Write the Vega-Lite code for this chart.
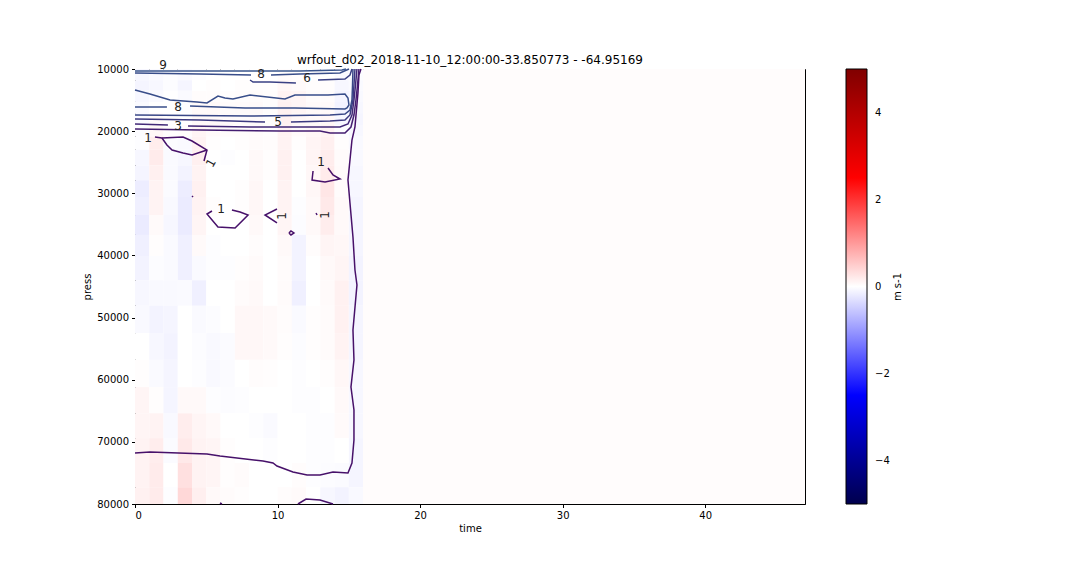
{
"$schema":"https://vega.github.io/schema/vega-lite/v6.json",
"width":670,"height":435,
"autosize":{"type":"none"},
"padding":{"left":135,"top":69,"right":275,"bottom":72},
"background":"white",
"title":{"text":"wrfout_d02_2018-11-10_12:00:00-33.850773 - -64.95169","font":"DejaVu Sans","fontSize":12,"fontWeight":"normal","color":"black","offset":-8},
"config":{"view":{"stroke":"black","strokeWidth":1},"font":"DejaVu Sans",
"axis":{"labelFont":"DejaVu Sans","titleFont":"DejaVu Sans","labelFontSize":10,"titleFontSize":10,"titleFontWeight":"normal","labelColor":"black","titleColor":"black","tickColor":"black","domainColor":"black","tickSize":3.5,"grid":false,"labelPadding":3}},
"datasets":{
"cells":[
{"t0":0,"t1":1,"p0":10000,"p1":11800,"v":-0.08},{"t0":0,"t1":1,"p0":11800,"p1":13500,"v":-0.1},{"t0":0,"t1":1,"p0":13500,"p1":15300,"v":-0.08},{"t0":0,"t1":1,"p0":15300,"p1":17100,"v":-0.05},{"t0":0,"t1":1,"p0":17100,"p1":19000,"v":-0.05},{"t0":0,"t1":1,"p0":19000,"p1":20900,"v":-0.03},{"t0":0,"t1":1,"p0":20900,"p1":23000,"v":-0.02},{"t0":0,"t1":1,"p0":23000,"p1":25500,"v":-0.08},{"t0":0,"t1":1,"p0":25500,"p1":27900,"v":-0.1},{"t0":0,"t1":1,"p0":27900,"p1":30600,"v":-0.18},{"t0":0,"t1":1,"p0":30600,"p1":33500,"v":-0.15},{"t0":0,"t1":1,"p0":33500,"p1":36700,"v":-0.2},{"t0":0,"t1":1,"p0":36700,"p1":40100,"v":-0.15},{"t0":0,"t1":1,"p0":40100,"p1":44000,"v":-0.12},{"t0":0,"t1":1,"p0":44000,"p1":48100,"v":-0.08},{"t0":0,"t1":1,"p0":48100,"p1":52500,"v":-0.06},{"t0":0,"t1":1,"p0":52500,"p1":56800,"v":0.0},{"t0":0,"t1":1,"p0":56800,"p1":61200,"v":0.02},{"t0":0,"t1":1,"p0":61200,"p1":65400,"v":0.1},{"t0":0,"t1":1,"p0":65400,"p1":69400,"v":0.1},{"t0":0,"t1":1,"p0":69400,"p1":73400,"v":0.12},{"t0":0,"t1":1,"p0":73400,"p1":77300,"v":0.12},{"t0":0,"t1":1,"p0":77300,"p1":80000,"v":0.14},
{"t0":1,"t1":2,"p0":10000,"p1":11800,"v":-0.05},{"t0":1,"t1":2,"p0":11800,"p1":13500,"v":-0.08},{"t0":1,"t1":2,"p0":13500,"p1":15300,"v":-0.05},{"t0":1,"t1":2,"p0":15300,"p1":17100,"v":0.0},{"t0":1,"t1":2,"p0":17100,"p1":19000,"v":0.05},{"t0":1,"t1":2,"p0":19000,"p1":20900,"v":0.08},{"t0":1,"t1":2,"p0":20900,"p1":23000,"v":0.18},{"t0":1,"t1":2,"p0":23000,"p1":25500,"v":0.2},{"t0":1,"t1":2,"p0":25500,"p1":27900,"v":0.15},{"t0":1,"t1":2,"p0":27900,"p1":30600,"v":0.12},{"t0":1,"t1":2,"p0":30600,"p1":33500,"v":0.12},{"t0":1,"t1":2,"p0":33500,"p1":36700,"v":0.05},{"t0":1,"t1":2,"p0":36700,"p1":40100,"v":0.02},{"t0":1,"t1":2,"p0":40100,"p1":44000,"v":-0.03},{"t0":1,"t1":2,"p0":44000,"p1":48100,"v":-0.06},{"t0":1,"t1":2,"p0":48100,"p1":52500,"v":-0.12},{"t0":1,"t1":2,"p0":52500,"p1":56800,"v":-0.08},{"t0":1,"t1":2,"p0":56800,"p1":61200,"v":-0.05},{"t0":1,"t1":2,"p0":61200,"p1":65400,"v":0.02},{"t0":1,"t1":2,"p0":65400,"p1":69400,"v":0.12},{"t0":1,"t1":2,"p0":69400,"p1":73400,"v":0.18},{"t0":1,"t1":2,"p0":73400,"p1":77300,"v":0.2},{"t0":1,"t1":2,"p0":77300,"p1":80000,"v":0.2},
{"t0":2,"t1":3,"p0":10000,"p1":11800,"v":-0.02},{"t0":2,"t1":3,"p0":11800,"p1":13500,"v":-0.03},{"t0":2,"t1":3,"p0":13500,"p1":15300,"v":0.0},{"t0":2,"t1":3,"p0":15300,"p1":17100,"v":0.0},{"t0":2,"t1":3,"p0":17100,"p1":19000,"v":0.02},{"t0":2,"t1":3,"p0":19000,"p1":20900,"v":0.02},{"t0":2,"t1":3,"p0":20900,"p1":23000,"v":-0.03},{"t0":2,"t1":3,"p0":23000,"p1":25500,"v":-0.05},{"t0":2,"t1":3,"p0":25500,"p1":27900,"v":-0.05},{"t0":2,"t1":3,"p0":27900,"p1":30600,"v":-0.04},{"t0":2,"t1":3,"p0":30600,"p1":33500,"v":-0.06},{"t0":2,"t1":3,"p0":33500,"p1":36700,"v":-0.08},{"t0":2,"t1":3,"p0":36700,"p1":40100,"v":-0.05},{"t0":2,"t1":3,"p0":40100,"p1":44000,"v":-0.05},{"t0":2,"t1":3,"p0":44000,"p1":48100,"v":-0.06},{"t0":2,"t1":3,"p0":48100,"p1":52500,"v":-0.1},{"t0":2,"t1":3,"p0":52500,"p1":56800,"v":-0.12},{"t0":2,"t1":3,"p0":56800,"p1":61200,"v":-0.1},{"t0":2,"t1":3,"p0":61200,"p1":65400,"v":-0.1},{"t0":2,"t1":3,"p0":65400,"p1":69400,"v":-0.06},{"t0":2,"t1":3,"p0":69400,"p1":73400,"v":-0.04},{"t0":2,"t1":3,"p0":73400,"p1":77300,"v":0.0},{"t0":2,"t1":3,"p0":77300,"p1":80000,"v":-0.02},
{"t0":3,"t1":4,"p0":10000,"p1":11800,"v":-0.05},{"t0":3,"t1":4,"p0":11800,"p1":13500,"v":-0.1},{"t0":3,"t1":4,"p0":13500,"p1":15300,"v":-0.05},{"t0":3,"t1":4,"p0":15300,"p1":17100,"v":-0.02},{"t0":3,"t1":4,"p0":17100,"p1":19000,"v":0.0},{"t0":3,"t1":4,"p0":19000,"p1":20900,"v":0.03},{"t0":3,"t1":4,"p0":20900,"p1":23000,"v":-0.05},{"t0":3,"t1":4,"p0":23000,"p1":25500,"v":-0.08},{"t0":3,"t1":4,"p0":25500,"p1":27900,"v":-0.12},{"t0":3,"t1":4,"p0":27900,"p1":30600,"v":-0.18},{"t0":3,"t1":4,"p0":30600,"p1":33500,"v":-0.2},{"t0":3,"t1":4,"p0":33500,"p1":36700,"v":-0.2},{"t0":3,"t1":4,"p0":36700,"p1":40100,"v":-0.15},{"t0":3,"t1":4,"p0":40100,"p1":44000,"v":-0.15},{"t0":3,"t1":4,"p0":44000,"p1":48100,"v":-0.05},{"t0":3,"t1":4,"p0":48100,"p1":52500,"v":0.0},{"t0":3,"t1":4,"p0":52500,"p1":56800,"v":0.0},{"t0":3,"t1":4,"p0":56800,"p1":61200,"v":0.0},{"t0":3,"t1":4,"p0":61200,"p1":65400,"v":0.06},{"t0":3,"t1":4,"p0":65400,"p1":69400,"v":0.18},{"t0":3,"t1":4,"p0":69400,"p1":73400,"v":0.22},{"t0":3,"t1":4,"p0":73400,"p1":77300,"v":0.3},{"t0":3,"t1":4,"p0":77300,"p1":80000,"v":0.38},
{"t0":4,"t1":5,"p0":10000,"p1":11800,"v":-0.02},{"t0":4,"t1":5,"p0":11800,"p1":13500,"v":0.0},{"t0":4,"t1":5,"p0":13500,"p1":15300,"v":0.03},{"t0":4,"t1":5,"p0":15300,"p1":17100,"v":0.05},{"t0":4,"t1":5,"p0":17100,"p1":19000,"v":0.06},{"t0":4,"t1":5,"p0":19000,"p1":20900,"v":0.1},{"t0":4,"t1":5,"p0":20900,"p1":23000,"v":0.12},{"t0":4,"t1":5,"p0":23000,"p1":25500,"v":0.15},{"t0":4,"t1":5,"p0":25500,"p1":27900,"v":0.12},{"t0":4,"t1":5,"p0":27900,"p1":30600,"v":0.14},{"t0":4,"t1":5,"p0":30600,"p1":33500,"v":0.12},{"t0":4,"t1":5,"p0":33500,"p1":36700,"v":0.1},{"t0":4,"t1":5,"p0":36700,"p1":40100,"v":0.05},{"t0":4,"t1":5,"p0":40100,"p1":44000,"v":-0.05},{"t0":4,"t1":5,"p0":44000,"p1":48100,"v":-0.15},{"t0":4,"t1":5,"p0":48100,"p1":52500,"v":-0.05},{"t0":4,"t1":5,"p0":52500,"p1":56800,"v":-0.03},{"t0":4,"t1":5,"p0":56800,"p1":61200,"v":-0.02},{"t0":4,"t1":5,"p0":61200,"p1":65400,"v":0.06},{"t0":4,"t1":5,"p0":65400,"p1":69400,"v":0.1},{"t0":4,"t1":5,"p0":69400,"p1":73400,"v":0.12},{"t0":4,"t1":5,"p0":73400,"p1":77300,"v":0.12},{"t0":4,"t1":5,"p0":77300,"p1":80000,"v":0.16},
{"t0":5,"t1":6,"p0":10000,"p1":11800,"v":0.0},{"t0":5,"t1":6,"p0":11800,"p1":13500,"v":0.02},{"t0":5,"t1":6,"p0":13500,"p1":15300,"v":0.03},{"t0":5,"t1":6,"p0":15300,"p1":17100,"v":0.06},{"t0":5,"t1":6,"p0":17100,"p1":19000,"v":0.06},{"t0":5,"t1":6,"p0":19000,"p1":20900,"v":0.05},{"t0":5,"t1":6,"p0":20900,"p1":23000,"v":0.02},{"t0":5,"t1":6,"p0":23000,"p1":25500,"v":0.0},{"t0":5,"t1":6,"p0":25500,"p1":27900,"v":0.0},{"t0":5,"t1":6,"p0":27900,"p1":30600,"v":0.0},{"t0":5,"t1":6,"p0":30600,"p1":33500,"v":0.02},{"t0":5,"t1":6,"p0":33500,"p1":36700,"v":0.0},{"t0":5,"t1":6,"p0":36700,"p1":40100,"v":-0.02},{"t0":5,"t1":6,"p0":40100,"p1":44000,"v":-0.02},{"t0":5,"t1":6,"p0":44000,"p1":48100,"v":0.0},{"t0":5,"t1":6,"p0":48100,"p1":52500,"v":-0.03},{"t0":5,"t1":6,"p0":52500,"p1":56800,"v":-0.06},{"t0":5,"t1":6,"p0":56800,"p1":61200,"v":-0.06},{"t0":5,"t1":6,"p0":61200,"p1":65400,"v":-0.02},{"t0":5,"t1":6,"p0":65400,"p1":69400,"v":0.06},{"t0":5,"t1":6,"p0":69400,"p1":73400,"v":0.1},{"t0":5,"t1":6,"p0":73400,"p1":77300,"v":0.1},{"t0":5,"t1":6,"p0":77300,"p1":80000,"v":0.06},
{"t0":6,"t1":7,"p0":10000,"p1":11800,"v":0.0},{"t0":6,"t1":7,"p0":11800,"p1":13500,"v":0.0},{"t0":6,"t1":7,"p0":13500,"p1":15300,"v":0.02},{"t0":6,"t1":7,"p0":15300,"p1":17100,"v":0.04},{"t0":6,"t1":7,"p0":17100,"p1":19000,"v":0.05},{"t0":6,"t1":7,"p0":19000,"p1":20900,"v":0.03},{"t0":6,"t1":7,"p0":20900,"p1":23000,"v":0.0},{"t0":6,"t1":7,"p0":23000,"p1":25500,"v":-0.02},{"t0":6,"t1":7,"p0":25500,"p1":27900,"v":0.0},{"t0":6,"t1":7,"p0":27900,"p1":30600,"v":0.0},{"t0":6,"t1":7,"p0":30600,"p1":33500,"v":0.0},{"t0":6,"t1":7,"p0":33500,"p1":36700,"v":0.0},{"t0":6,"t1":7,"p0":36700,"p1":40100,"v":0.0},{"t0":6,"t1":7,"p0":40100,"p1":44000,"v":-0.02},{"t0":6,"t1":7,"p0":44000,"p1":48100,"v":0.0},{"t0":6,"t1":7,"p0":48100,"p1":52500,"v":0.0},{"t0":6,"t1":7,"p0":52500,"p1":56800,"v":-0.04},{"t0":6,"t1":7,"p0":56800,"p1":61200,"v":-0.04},{"t0":6,"t1":7,"p0":61200,"p1":65400,"v":-0.03},{"t0":6,"t1":7,"p0":65400,"p1":69400,"v":0.0},{"t0":6,"t1":7,"p0":69400,"p1":73400,"v":0.02},{"t0":6,"t1":7,"p0":73400,"p1":77300,"v":0.02},{"t0":6,"t1":7,"p0":77300,"p1":80000,"v":0.04},
{"t0":7,"t1":8,"p0":10000,"p1":11800,"v":0.0},{"t0":7,"t1":8,"p0":11800,"p1":13500,"v":0.02},{"t0":7,"t1":8,"p0":13500,"p1":15300,"v":0.03},{"t0":7,"t1":8,"p0":15300,"p1":17100,"v":0.05},{"t0":7,"t1":8,"p0":17100,"p1":19000,"v":0.04},{"t0":7,"t1":8,"p0":19000,"p1":20900,"v":0.03},{"t0":7,"t1":8,"p0":20900,"p1":23000,"v":0.02},{"t0":7,"t1":8,"p0":23000,"p1":25500,"v":0.0},{"t0":7,"t1":8,"p0":25500,"p1":27900,"v":0.0},{"t0":7,"t1":8,"p0":27900,"p1":30600,"v":0.02},{"t0":7,"t1":8,"p0":30600,"p1":33500,"v":0.02},{"t0":7,"t1":8,"p0":33500,"p1":36700,"v":0.0},{"t0":7,"t1":8,"p0":36700,"p1":40100,"v":0.0},{"t0":7,"t1":8,"p0":40100,"p1":44000,"v":0.02},{"t0":7,"t1":8,"p0":44000,"p1":48100,"v":0.04},{"t0":7,"t1":8,"p0":48100,"p1":52500,"v":0.08},{"t0":7,"t1":8,"p0":52500,"p1":56800,"v":0.08},{"t0":7,"t1":8,"p0":56800,"p1":61200,"v":0.0},{"t0":7,"t1":8,"p0":61200,"p1":65400,"v":-0.02},{"t0":7,"t1":8,"p0":65400,"p1":69400,"v":0.0},{"t0":7,"t1":8,"p0":69400,"p1":73400,"v":0.0},{"t0":7,"t1":8,"p0":73400,"p1":77300,"v":0.04},{"t0":7,"t1":8,"p0":77300,"p1":80000,"v":0.02},
{"t0":8,"t1":9,"p0":10000,"p1":11800,"v":0.0},{"t0":8,"t1":9,"p0":11800,"p1":13500,"v":0.02},{"t0":8,"t1":9,"p0":13500,"p1":15300,"v":0.04},{"t0":8,"t1":9,"p0":15300,"p1":17100,"v":0.06},{"t0":8,"t1":9,"p0":17100,"p1":19000,"v":0.05},{"t0":8,"t1":9,"p0":19000,"p1":20900,"v":0.04},{"t0":8,"t1":9,"p0":20900,"p1":23000,"v":0.04},{"t0":8,"t1":9,"p0":23000,"p1":25500,"v":0.06},{"t0":8,"t1":9,"p0":25500,"p1":27900,"v":0.06},{"t0":8,"t1":9,"p0":27900,"p1":30600,"v":0.08},{"t0":8,"t1":9,"p0":30600,"p1":33500,"v":0.08},{"t0":8,"t1":9,"p0":33500,"p1":36700,"v":0.06},{"t0":8,"t1":9,"p0":36700,"p1":40100,"v":0.03},{"t0":8,"t1":9,"p0":40100,"p1":44000,"v":0.05},{"t0":8,"t1":9,"p0":44000,"p1":48100,"v":0.06},{"t0":8,"t1":9,"p0":48100,"p1":52500,"v":0.08},{"t0":8,"t1":9,"p0":52500,"p1":56800,"v":0.08},{"t0":8,"t1":9,"p0":56800,"p1":61200,"v":0.03},{"t0":8,"t1":9,"p0":61200,"p1":65400,"v":0.0},{"t0":8,"t1":9,"p0":65400,"p1":69400,"v":-0.02},{"t0":8,"t1":9,"p0":69400,"p1":73400,"v":0.0},{"t0":8,"t1":9,"p0":73400,"p1":77300,"v":0.0},{"t0":8,"t1":9,"p0":77300,"p1":80000,"v":0.0},
{"t0":9,"t1":10,"p0":10000,"p1":11800,"v":0.0},{"t0":9,"t1":10,"p0":11800,"p1":13500,"v":0.02},{"t0":9,"t1":10,"p0":13500,"p1":15300,"v":0.03},{"t0":9,"t1":10,"p0":15300,"p1":17100,"v":0.03},{"t0":9,"t1":10,"p0":17100,"p1":19000,"v":0.02},{"t0":9,"t1":10,"p0":19000,"p1":20900,"v":0.02},{"t0":9,"t1":10,"p0":20900,"p1":23000,"v":0.03},{"t0":9,"t1":10,"p0":23000,"p1":25500,"v":0.02},{"t0":9,"t1":10,"p0":25500,"p1":27900,"v":0.02},{"t0":9,"t1":10,"p0":27900,"p1":30600,"v":0.0},{"t0":9,"t1":10,"p0":30600,"p1":33500,"v":0.0},{"t0":9,"t1":10,"p0":33500,"p1":36700,"v":0.0},{"t0":9,"t1":10,"p0":36700,"p1":40100,"v":0.0},{"t0":9,"t1":10,"p0":40100,"p1":44000,"v":0.0},{"t0":9,"t1":10,"p0":44000,"p1":48100,"v":0.0},{"t0":9,"t1":10,"p0":48100,"p1":52500,"v":0.06},{"t0":9,"t1":10,"p0":52500,"p1":56800,"v":0.06},{"t0":9,"t1":10,"p0":56800,"p1":61200,"v":0.02},{"t0":9,"t1":10,"p0":61200,"p1":65400,"v":0.0},{"t0":9,"t1":10,"p0":65400,"p1":69400,"v":-0.05},{"t0":9,"t1":10,"p0":69400,"p1":73400,"v":-0.02},{"t0":9,"t1":10,"p0":73400,"p1":77300,"v":0.0},{"t0":9,"t1":10,"p0":77300,"p1":80000,"v":0.0},
{"t0":10,"t1":11,"p0":10000,"p1":11800,"v":0.03},{"t0":10,"t1":11,"p0":11800,"p1":13500,"v":0.08},{"t0":10,"t1":11,"p0":13500,"p1":15300,"v":0.12},{"t0":10,"t1":11,"p0":15300,"p1":17100,"v":0.14},{"t0":10,"t1":11,"p0":17100,"p1":19000,"v":0.14},{"t0":10,"t1":11,"p0":19000,"p1":20900,"v":0.12},{"t0":10,"t1":11,"p0":20900,"p1":23000,"v":0.12},{"t0":10,"t1":11,"p0":23000,"p1":25500,"v":0.14},{"t0":10,"t1":11,"p0":25500,"p1":27900,"v":0.14},{"t0":10,"t1":11,"p0":27900,"p1":30600,"v":0.12},{"t0":10,"t1":11,"p0":30600,"p1":33500,"v":0.12},{"t0":10,"t1":11,"p0":33500,"p1":36700,"v":0.1},{"t0":10,"t1":11,"p0":36700,"p1":40100,"v":0.06},{"t0":10,"t1":11,"p0":40100,"p1":44000,"v":0.04},{"t0":10,"t1":11,"p0":44000,"p1":48100,"v":0.04},{"t0":10,"t1":11,"p0":48100,"p1":52500,"v":0.03},{"t0":10,"t1":11,"p0":52500,"p1":56800,"v":0.02},{"t0":10,"t1":11,"p0":56800,"p1":61200,"v":0.0},{"t0":10,"t1":11,"p0":61200,"p1":65400,"v":0.0},{"t0":10,"t1":11,"p0":65400,"p1":69400,"v":0.0},{"t0":10,"t1":11,"p0":69400,"p1":73400,"v":0.0},{"t0":10,"t1":11,"p0":73400,"p1":77300,"v":0.0},{"t0":10,"t1":11,"p0":77300,"p1":80000,"v":0.03},
{"t0":11,"t1":12,"p0":10000,"p1":11800,"v":0.02},{"t0":11,"t1":12,"p0":11800,"p1":13500,"v":0.05},{"t0":11,"t1":12,"p0":13500,"p1":15300,"v":0.1},{"t0":11,"t1":12,"p0":15300,"p1":17100,"v":0.1},{"t0":11,"t1":12,"p0":17100,"p1":19000,"v":0.08},{"t0":11,"t1":12,"p0":19000,"p1":20900,"v":0.05},{"t0":11,"t1":12,"p0":20900,"p1":23000,"v":0.02},{"t0":11,"t1":12,"p0":23000,"p1":25500,"v":0.0},{"t0":11,"t1":12,"p0":25500,"p1":27900,"v":0.0},{"t0":11,"t1":12,"p0":27900,"p1":30600,"v":0.0},{"t0":11,"t1":12,"p0":30600,"p1":33500,"v":-0.02},{"t0":11,"t1":12,"p0":33500,"p1":36700,"v":-0.03},{"t0":11,"t1":12,"p0":36700,"p1":40100,"v":-0.12},{"t0":11,"t1":12,"p0":40100,"p1":44000,"v":-0.12},{"t0":11,"t1":12,"p0":44000,"p1":48100,"v":-0.15},{"t0":11,"t1":12,"p0":48100,"p1":52500,"v":-0.05},{"t0":11,"t1":12,"p0":52500,"p1":56800,"v":-0.03},{"t0":11,"t1":12,"p0":56800,"p1":61200,"v":-0.02},{"t0":11,"t1":12,"p0":61200,"p1":65400,"v":-0.02},{"t0":11,"t1":12,"p0":65400,"p1":69400,"v":0.0},{"t0":11,"t1":12,"p0":69400,"p1":73400,"v":0.0},{"t0":11,"t1":12,"p0":73400,"p1":77300,"v":0.03},{"t0":11,"t1":12,"p0":77300,"p1":80000,"v":0.05},
{"t0":12,"t1":13,"p0":10000,"p1":11800,"v":0.0},{"t0":12,"t1":13,"p0":11800,"p1":13500,"v":0.02},{"t0":12,"t1":13,"p0":13500,"p1":15300,"v":0.04},{"t0":12,"t1":13,"p0":15300,"p1":17100,"v":0.06},{"t0":12,"t1":13,"p0":17100,"p1":19000,"v":0.06},{"t0":12,"t1":13,"p0":19000,"p1":20900,"v":0.08},{"t0":12,"t1":13,"p0":20900,"p1":23000,"v":0.1},{"t0":12,"t1":13,"p0":23000,"p1":25500,"v":0.1},{"t0":12,"t1":13,"p0":25500,"p1":27900,"v":0.08},{"t0":12,"t1":13,"p0":27900,"p1":30600,"v":0.08},{"t0":12,"t1":13,"p0":30600,"p1":33500,"v":0.06},{"t0":12,"t1":13,"p0":33500,"p1":36700,"v":0.06},{"t0":12,"t1":13,"p0":36700,"p1":40100,"v":0.03},{"t0":12,"t1":13,"p0":40100,"p1":44000,"v":0.0},{"t0":12,"t1":13,"p0":44000,"p1":48100,"v":0.0},{"t0":12,"t1":13,"p0":48100,"p1":52500,"v":0.02},{"t0":12,"t1":13,"p0":52500,"p1":56800,"v":0.02},{"t0":12,"t1":13,"p0":56800,"p1":61200,"v":0.0},{"t0":12,"t1":13,"p0":61200,"p1":65400,"v":-0.02},{"t0":12,"t1":13,"p0":65400,"p1":69400,"v":-0.02},{"t0":12,"t1":13,"p0":69400,"p1":73400,"v":-0.02},{"t0":12,"t1":13,"p0":73400,"p1":77300,"v":-0.02},{"t0":12,"t1":13,"p0":77300,"p1":80000,"v":0.0},
{"t0":13,"t1":14,"p0":10000,"p1":11800,"v":0.0},{"t0":13,"t1":14,"p0":11800,"p1":13500,"v":0.02},{"t0":13,"t1":14,"p0":13500,"p1":15300,"v":0.03},{"t0":13,"t1":14,"p0":15300,"p1":17100,"v":0.05},{"t0":13,"t1":14,"p0":17100,"p1":19000,"v":0.08},{"t0":13,"t1":14,"p0":19000,"p1":20900,"v":0.12},{"t0":13,"t1":14,"p0":20900,"p1":23000,"v":0.15},{"t0":13,"t1":14,"p0":23000,"p1":25500,"v":0.18},{"t0":13,"t1":14,"p0":25500,"p1":27900,"v":0.2},{"t0":13,"t1":14,"p0":27900,"p1":30600,"v":0.25},{"t0":13,"t1":14,"p0":30600,"p1":33500,"v":0.22},{"t0":13,"t1":14,"p0":33500,"p1":36700,"v":0.18},{"t0":13,"t1":14,"p0":36700,"p1":40100,"v":0.1},{"t0":13,"t1":14,"p0":40100,"p1":44000,"v":0.06},{"t0":13,"t1":14,"p0":44000,"p1":48100,"v":0.05},{"t0":13,"t1":14,"p0":48100,"p1":52500,"v":0.04},{"t0":13,"t1":14,"p0":52500,"p1":56800,"v":0.04},{"t0":13,"t1":14,"p0":56800,"p1":61200,"v":0.02},{"t0":13,"t1":14,"p0":61200,"p1":65400,"v":0.0},{"t0":13,"t1":14,"p0":65400,"p1":69400,"v":-0.02},{"t0":13,"t1":14,"p0":69400,"p1":73400,"v":-0.02},{"t0":13,"t1":14,"p0":73400,"p1":77300,"v":-0.03},{"t0":13,"t1":14,"p0":77300,"p1":80000,"v":-0.08},
{"t0":14,"t1":15,"p0":10000,"p1":11800,"v":-0.05},{"t0":14,"t1":15,"p0":11800,"p1":13500,"v":-0.08},{"t0":14,"t1":15,"p0":13500,"p1":15300,"v":-0.1},{"t0":14,"t1":15,"p0":15300,"p1":17100,"v":-0.12},{"t0":14,"t1":15,"p0":17100,"p1":19000,"v":-0.08},{"t0":14,"t1":15,"p0":19000,"p1":20900,"v":-0.02},{"t0":14,"t1":15,"p0":20900,"p1":23000,"v":0.02},{"t0":14,"t1":15,"p0":23000,"p1":25500,"v":0.04},{"t0":14,"t1":15,"p0":25500,"p1":27900,"v":0.05},{"t0":14,"t1":15,"p0":27900,"p1":30600,"v":0.04},{"t0":14,"t1":15,"p0":30600,"p1":33500,"v":0.06},{"t0":14,"t1":15,"p0":33500,"p1":36700,"v":0.06},{"t0":14,"t1":15,"p0":36700,"p1":40100,"v":0.08},{"t0":14,"t1":15,"p0":40100,"p1":44000,"v":0.1},{"t0":14,"t1":15,"p0":44000,"p1":48100,"v":0.14},{"t0":14,"t1":15,"p0":48100,"p1":52500,"v":0.14},{"t0":14,"t1":15,"p0":52500,"p1":56800,"v":0.12},{"t0":14,"t1":15,"p0":56800,"p1":61200,"v":0.08},{"t0":14,"t1":15,"p0":61200,"p1":65400,"v":0.06},{"t0":14,"t1":15,"p0":65400,"p1":69400,"v":0.05},{"t0":14,"t1":15,"p0":69400,"p1":73400,"v":0.0},{"t0":14,"t1":15,"p0":73400,"p1":77300,"v":-0.04},{"t0":14,"t1":15,"p0":77300,"p1":80000,"v":-0.12},
{"t0":15,"t1":16,"p0":10000,"p1":11800,"v":-0.03},{"t0":15,"t1":16,"p0":11800,"p1":13500,"v":-0.05},{"t0":15,"t1":16,"p0":13500,"p1":15300,"v":-0.06},{"t0":15,"t1":16,"p0":15300,"p1":17100,"v":-0.08},{"t0":15,"t1":16,"p0":17100,"p1":19000,"v":-0.1},{"t0":15,"t1":16,"p0":19000,"p1":20900,"v":-0.08},{"t0":15,"t1":16,"p0":20900,"p1":23000,"v":-0.06},{"t0":15,"t1":16,"p0":23000,"p1":25500,"v":-0.06},{"t0":15,"t1":16,"p0":25500,"p1":27900,"v":-0.08},{"t0":15,"t1":16,"p0":27900,"p1":30600,"v":-0.08},{"t0":15,"t1":16,"p0":30600,"p1":33500,"v":-0.1},{"t0":15,"t1":16,"p0":33500,"p1":36700,"v":-0.1},{"t0":15,"t1":16,"p0":36700,"p1":40100,"v":-0.1},{"t0":15,"t1":16,"p0":40100,"p1":44000,"v":-0.12},{"t0":15,"t1":16,"p0":44000,"p1":48100,"v":-0.12},{"t0":15,"t1":16,"p0":48100,"p1":52500,"v":-0.1},{"t0":15,"t1":16,"p0":52500,"p1":56800,"v":-0.1},{"t0":15,"t1":16,"p0":56800,"p1":61200,"v":-0.08},{"t0":15,"t1":16,"p0":61200,"p1":65400,"v":-0.08},{"t0":15,"t1":16,"p0":65400,"p1":69400,"v":-0.08},{"t0":15,"t1":16,"p0":69400,"p1":73400,"v":-0.1},{"t0":15,"t1":16,"p0":73400,"p1":77300,"v":-0.1},{"t0":15,"t1":16,"p0":77300,"p1":80000,"v":-0.06},
{"t0":16,"t1":47,"p0":10000,"p1":80000,"v":0.03}
],
"contours":[
{"id":"c1","lev":1,"o":0,"t":15.85,"p":10000},{"id":"c1","lev":1,"o":1,"t":15.71,"p":10966},{"id":"c1","lev":1,"o":2,"t":15.64,"p":13862},{"id":"c1","lev":1,"o":3,"t":15.43,"p":19333},{"id":"c1","lev":1,"o":4,"t":15.22,"p":21425},{"id":"c1","lev":1,"o":5,"t":15.08,"p":24644},{"id":"c1","lev":1,"o":6,"t":14.94,"p":27862},{"id":"c1","lev":1,"o":7,"t":15.08,"p":31563},{"id":"c1","lev":1,"o":8,"t":15.29,"p":37035},{"id":"c1","lev":1,"o":9,"t":15.43,"p":42345},{"id":"c1","lev":1,"o":10,"t":15.57,"p":44759},{"id":"c1","lev":1,"o":11,"t":15.29,"p":52000},{"id":"c1","lev":1,"o":12,"t":15.36,"p":56828},{"id":"c1","lev":1,"o":13,"t":15.15,"p":61173},{"id":"c1","lev":1,"o":14,"t":15.36,"p":64874},{"id":"c1","lev":1,"o":15,"t":15.36,"p":69701},{"id":"c1","lev":1,"o":16,"t":15.22,"p":73402},{"id":"c1","lev":1,"o":17,"t":14.94,"p":75011},{"id":"c1","lev":1,"o":18,"t":13.89,"p":74850},{"id":"c1","lev":1,"o":19,"t":12.98,"p":75333},{"id":"c1","lev":1,"o":20,"t":12.07,"p":75333},{"id":"c1","lev":1,"o":21,"t":11.08,"p":74850},{"id":"c1","lev":1,"o":22,"t":9.96,"p":73885},{"id":"c1","lev":1,"o":23,"t":9.68,"p":73402},{"id":"c1","lev":1,"o":24,"t":8.98,"p":73081},{"id":"c1","lev":1,"o":25,"t":5.96,"p":72276},{"id":"c1","lev":1,"o":26,"t":5.05,"p":71954},{"id":"c1","lev":1,"o":27,"t":1.05,"p":71632},{"id":"c1","lev":1,"o":28,"t":0,"p":71793},
{"id":"c1b","lev":1,"o":0,"t":11.43,"p":80000},{"id":"c1b","lev":1,"o":1,"t":12.0,"p":79196},{"id":"c1b","lev":1,"o":2,"t":12.98,"p":79358},{"id":"c1b","lev":1,"o":3,"t":13.89,"p":80000},
{"id":"c1c","lev":1,"o":0,"t":1.4,"p":20943},{"id":"c1c","lev":1,"o":1,"t":1.89,"p":21103},{"id":"c1c","lev":1,"o":2,"t":3.37,"p":20943},{"id":"c1c","lev":1,"o":3,"t":4.0,"p":21586},{"id":"c1c","lev":1,"o":4,"t":5.05,"p":23034},{"id":"c1c","lev":1,"o":5,"t":4.84,"p":24805},
{"id":"c1d","lev":1,"o":0,"t":1.89,"p":21103},{"id":"c1d","lev":1,"o":1,"t":2.24,"p":22230},{"id":"c1d","lev":1,"o":2,"t":2.6,"p":23034},{"id":"c1d","lev":1,"o":3,"t":3.37,"p":23517},{"id":"c1d","lev":1,"o":4,"t":4.0,"p":23839},{"id":"c1d","lev":1,"o":5,"t":5.05,"p":23034},
{"id":"c1e","lev":1,"o":0,"t":12.49,"p":26414},{"id":"c1e","lev":1,"o":1,"t":12.42,"p":27862},{"id":"c1e","lev":1,"o":2,"t":13.33,"p":28184},{"id":"c1e","lev":1,"o":3,"t":14.38,"p":27701},{"id":"c1e","lev":1,"o":4,"t":13.89,"p":27058},{"id":"c1e","lev":1,"o":5,"t":13.54,"p":25931},
{"id":"c1f","lev":1,"o":0,"t":5.4,"p":32851},{"id":"c1f","lev":1,"o":1,"t":5.05,"p":33333},{"id":"c1f","lev":1,"o":2,"t":5.82,"p":35425},{"id":"c1f","lev":1,"o":3,"t":7.02,"p":35586},{"id":"c1f","lev":1,"o":4,"t":7.93,"p":33494},{"id":"c1f","lev":1,"o":5,"t":7.37,"p":33012},{"id":"c1f","lev":1,"o":6,"t":6.8,"p":32690},
{"id":"c1g","lev":1,"o":0,"t":9.96,"p":32529},{"id":"c1g","lev":1,"o":1,"t":9.12,"p":33494},{"id":"c1g","lev":1,"o":2,"t":9.96,"p":34781},
{"id":"c1h","lev":1,"o":0,"t":10.8,"p":36391},{"id":"c1h","lev":1,"o":1,"t":10.94,"p":36069},{"id":"c1h","lev":1,"o":2,"t":11.15,"p":36391},{"id":"c1h","lev":1,"o":3,"t":10.94,"p":36712},{"id":"c1h","lev":1,"o":4,"t":10.8,"p":36391},
{"id":"c1i","lev":1,"o":0,"t":4.0,"p":30437},{"id":"c1i","lev":1,"o":1,"t":4.07,"p":30598},
{"id":"c1j","lev":1,"o":0,"t":12.7,"p":33173},{"id":"c1j","lev":1,"o":1,"t":12.77,"p":33494},
{"id":"c1k","lev":1,"o":0,"t":5.96,"p":79840},{"id":"c1k","lev":1,"o":1,"t":6.1,"p":80000},
{"id":"c2","lev":2,"o":0,"t":0,"p":19655},{"id":"c2","lev":2,"o":1,"t":4.56,"p":19816},{"id":"c2","lev":2,"o":2,"t":10.17,"p":19977},{"id":"c2","lev":2,"o":3,"t":12.98,"p":19977},{"id":"c2","lev":2,"o":4,"t":13.68,"p":20299},{"id":"c2","lev":2,"o":5,"t":14.73,"p":20299},{"id":"c2","lev":2,"o":6,"t":15.15,"p":19333},{"id":"c2","lev":2,"o":7,"t":15.36,"p":17402},{"id":"c2","lev":2,"o":8,"t":15.5,"p":14989},{"id":"c2","lev":2,"o":9,"t":15.61,"p":12575},{"id":"c2","lev":2,"o":10,"t":15.71,"p":10000},
{"id":"c3a","lev":3,"o":0,"t":0,"p":18851},{"id":"c3a","lev":3,"o":1,"t":2.31,"p":19012},
{"id":"c3b","lev":3,"o":0,"t":3.72,"p":19172},{"id":"c3b","lev":3,"o":1,"t":8.07,"p":19333},{"id":"c3b","lev":3,"o":2,"t":12.98,"p":19333},{"id":"c3b","lev":3,"o":3,"t":14.38,"p":19333},{"id":"c3b","lev":3,"o":4,"t":14.94,"p":18851},{"id":"c3b","lev":3,"o":5,"t":15.22,"p":17402},{"id":"c3b","lev":3,"o":6,"t":15.36,"p":14989},{"id":"c3b","lev":3,"o":7,"t":15.47,"p":12575},{"id":"c3b","lev":3,"o":8,"t":15.57,"p":10000},
{"id":"c5a","lev":5,"o":0,"t":0,"p":18046},{"id":"c5a","lev":5,"o":1,"t":4.56,"p":18207},{"id":"c5a","lev":5,"o":2,"t":9.12,"p":18529},
{"id":"c5b","lev":5,"o":0,"t":10.94,"p":18529},{"id":"c5b","lev":5,"o":1,"t":13.68,"p":18368},{"id":"c5b","lev":5,"o":2,"t":14.73,"p":18207},{"id":"c5b","lev":5,"o":3,"t":15.08,"p":17402},{"id":"c5b","lev":5,"o":4,"t":15.29,"p":14989},{"id":"c5b","lev":5,"o":5,"t":15.36,"p":12575},{"id":"c5b","lev":5,"o":6,"t":15.43,"p":10000},
{"id":"c7","lev":7,"o":0,"t":0,"p":17402},{"id":"c7","lev":7,"o":1,"t":8.07,"p":17563},{"id":"c7","lev":7,"o":2,"t":13.68,"p":17402},{"id":"c7","lev":7,"o":3,"t":14.73,"p":17241},{"id":"c7","lev":7,"o":4,"t":15.08,"p":16598},{"id":"c7","lev":7,"o":5,"t":15.22,"p":14989},{"id":"c7","lev":7,"o":6,"t":15.26,"p":12575},{"id":"c7","lev":7,"o":7,"t":15.29,"p":10000},
{"id":"c8b","lev":8,"o":0,"t":0,"p":13379},{"id":"c8b","lev":8,"o":1,"t":1.05,"p":14023},{"id":"c8b","lev":8,"o":2,"t":2.46,"p":14989},{"id":"c8b","lev":8,"o":3,"t":4.35,"p":15310},{"id":"c8b","lev":8,"o":4,"t":5.05,"p":15471},{"id":"c8b","lev":8,"o":5,"t":5.82,"p":14345},{"id":"c8b","lev":8,"o":6,"t":6.31,"p":14667},{"id":"c8b","lev":8,"o":7,"t":6.87,"p":14828},{"id":"c8b","lev":8,"o":8,"t":8.07,"p":14184},{"id":"c8b","lev":8,"o":9,"t":10.52,"p":14828},{"id":"c8b","lev":8,"o":10,"t":11.22,"p":14184},{"id":"c8b","lev":8,"o":11,"t":13.54,"p":14184},{"id":"c8b","lev":8,"o":12,"t":14.73,"p":14023},{"id":"c8b","lev":8,"o":13,"t":14.94,"p":14667},{"id":"c8b","lev":8,"o":14,"t":15.01,"p":15793},{"id":"c8b","lev":8,"o":15,"t":14.87,"p":16276},{"id":"c8b","lev":8,"o":16,"t":14.73,"p":16437},{"id":"c8b","lev":8,"o":17,"t":11.22,"p":16276},{"id":"c8b","lev":8,"o":18,"t":7.72,"p":16276},{"id":"c8b","lev":8,"o":19,"t":3.86,"p":15954},
{"id":"c8c","lev":8,"o":0,"t":2.24,"p":16115},{"id":"c8c","lev":8,"o":1,"t":0,"p":16115},
{"id":"c6a","lev":6,"o":0,"t":8.07,"p":11770},{"id":"c6a","lev":6,"o":1,"t":8.28,"p":12092},{"id":"c6a","lev":6,"o":2,"t":9.47,"p":12092},{"id":"c6a","lev":6,"o":3,"t":11.29,"p":12253},
{"id":"c6b","lev":6,"o":0,"t":12.84,"p":11770},{"id":"c6b","lev":6,"o":1,"t":14.73,"p":11609},{"id":"c6b","lev":6,"o":2,"t":15.08,"p":10966},{"id":"c6b","lev":6,"o":3,"t":15.22,"p":10000},
{"id":"c8a","lev":8,"o":0,"t":0,"p":10644},{"id":"c8a","lev":8,"o":1,"t":4.56,"p":10805},{"id":"c8a","lev":8,"o":2,"t":8.14,"p":10966},
{"id":"c8d","lev":8,"o":0,"t":9.54,"p":10966},{"id":"c8d","lev":8,"o":1,"t":11.57,"p":10805},{"id":"c8d","lev":8,"o":2,"t":14.38,"p":10644},{"id":"c8d","lev":8,"o":3,"t":15.01,"p":10000},
{"id":"c9","lev":9,"o":0,"t":0,"p":10322},{"id":"c9","lev":9,"o":1,"t":4.56,"p":10322},{"id":"c9","lev":9,"o":2,"t":11.57,"p":10322},{"id":"c9","lev":9,"o":3,"t":14.52,"p":10161},{"id":"c9","lev":9,"o":4,"t":14.8,"p":10000}
],
"labels0":[
{"t":1.96,"p":9356,"label":"9"},{"t":8.84,"p":10805,"label":"8"},{"t":12.07,"p":11448,"label":"6"},{"t":3.02,"p":16115,"label":"8"},{"t":3.02,"p":19172,"label":"3"},{"t":10.03,"p":18529,"label":"5"},{"t":0.91,"p":21103,"label":"1"},{"t":13.05,"p":24966,"label":"1"},{"t":6.03,"p":32529,"label":"1"}
],
"labelsV":[
{"t":10.31,"p":33655,"label":"1"},{"t":13.33,"p":33494,"label":"1"}
],
"labelsD":[
{"t":5.33,"p":25127,"label":"1"}
]
},
"layer":[
{"layer":[
{"data":{"name":"cells"},"mark":{"type":"rect"},
"encoding":{
"x":{"field":"t0","type":"quantitative","scale":{"domain":[0,47],"nice":false,"zero":false},"axis":{"title":"time","values":[0,10,20,30,40],"titlePadding":3}},
"x2":{"field":"t1"},
"y":{"field":"p0","type":"quantitative","scale":{"domain":[10000,80000],"reverse":true,"nice":false,"zero":false},"axis":{"title":"press","values":[10000,20000,30000,40000,50000,60000,70000,80000],"format":"d","titlePadding":4}},
"y2":{"field":"p1"},
"color":{"field":"v","type":"quantitative","scale":{"domain":[-5,-2.5,0,2.5,5],"range":["#00004d","#0000ff","#ffffff","#ff0000","#800000"],"interpolate":"rgb"},
"legend":{"orient":"none","legendX":711,"legendY":0,"direction":"vertical","gradientLength":435,"gradientThickness":21,"title":null,"values":[-4,-2,0,2,4],"labelFontSize":10,"labelColor":"black","labelFont":"DejaVu Sans","labelOffset":8,"gradientStrokeColor":"black","gradientStrokeWidth":1,"padding":0,"labelOverlap":false}}
}},
{"data":{"name":"contours"},"mark":{"type":"line","strokeWidth":1.5},
"encoding":{
"x":{"field":"t","type":"quantitative"},
"y":{"field":"p","type":"quantitative"},
"detail":{"field":"id"},
"order":{"field":"o"},
"color":{"field":"lev","type":"quantitative","scale":{"domain":[1,9],"range":["#47116a","#3a558c"]},"legend":null}
}},
{"data":{"name":"labels0"},"mark":{"type":"text","fontSize":12,"font":"DejaVu Sans","color":"#222222","align":"center","baseline":"middle"},
"encoding":{"x":{"field":"t","type":"quantitative"},"y":{"field":"p","type":"quantitative"},"text":{"field":"label"}}},
{"data":{"name":"labelsV"},"mark":{"type":"text","fontSize":12,"font":"DejaVu Sans","color":"#222222","align":"center","baseline":"middle","angle":270},
"encoding":{"x":{"field":"t","type":"quantitative"},"y":{"field":"p","type":"quantitative"},"text":{"field":"label"}}},
{"data":{"name":"labelsD"},"mark":{"type":"text","fontSize":12,"font":"DejaVu Sans","color":"#222222","align":"center","baseline":"middle","angle":300},
"encoding":{"x":{"field":"t","type":"quantitative"},"y":{"field":"p","type":"quantitative"},"text":{"field":"label"}}}
],"resolve":{"scale":{"color":"independent"}}},
{"data":{"name":"labels0"},"mark":{"type":"text","opacity":0},
"encoding":{"y":{"field":"p","type":"quantitative","scale":{"domain":[10000,80000],"reverse":true,"nice":false,"zero":false},
"axis":{"orient":"right","title":"m s-1","labels":false,"ticks":false,"domain":false,"grid":false,"titleAngle":270,"titleX":92,"titleY":217.5,"titleAlign":"center","titleBaseline":"middle","titleFontSize":10,"titleFontWeight":"normal"}},
"text":{"field":"label"}}}
],
"resolve":{"scale":{"y":"independent"}}
}
